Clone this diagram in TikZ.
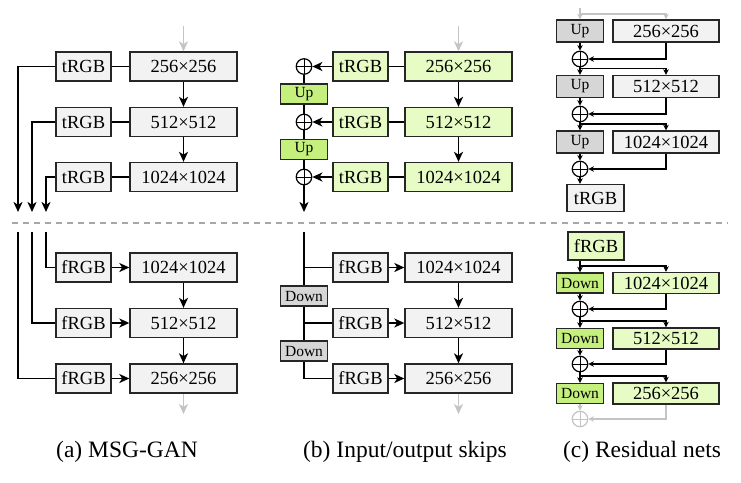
\documentclass[tikz,border=0pt]{standalone}
\usepackage{fontspec}
\setmainfont{Liberation Serif}
\usetikzlibrary{arrows.meta,calc}
\definecolor{lgray}{HTML}{F2F2F2}
\definecolor{mgray}{HTML}{D6D6D6}
\definecolor{lgreen}{HTML}{E6FCC4}
\definecolor{dgreen}{HTML}{C6F07E}
\definecolor{ghost}{HTML}{C4C4C4}
\begin{document}
\begin{tikzpicture}[x=1pt,y=-1pt,
  bx/.style={draw=black!85,line width=1.35pt,inner sep=0pt,font=\fontsize{18.5}{20}\selectfont},
  sbx/.style={bx,font=\fontsize{15.5}{17}\selectfont},
  wsm/.style={minimum width=55pt,minimum height=29pt},
  wbig/.style={minimum width=107pt,minimum height=29pt},
  wup/.style={minimum width=47pt,minimum height=20pt},
  plus/.style={circle,draw,line width=1.2pt,fill=white,minimum size=15.5pt,inner sep=0pt,
    path picture={\draw[line width=1pt] (path picture bounding box.north) -- (path picture bounding box.south)
      (path picture bounding box.west) -- (path picture bounding box.east);}},
  ghostplus/.style={plus,draw=ghost,path picture={\draw[line width=1pt,ghost] (path picture bounding box.north) -- (path picture bounding box.south)
      (path picture bounding box.west) -- (path picture bounding box.east);}},
  ln/.style={line width=1.6pt,black},
  sl/.style={line width=1.4pt,black},
  gh/.style={line width=1.4pt,ghost},
  arr/.style={-{Stealth[length=10pt,width=9pt,inset=2.8pt]}},
  sarr/.style={-{Stealth[length=5.5pt,width=5.5pt,inset=1.6pt]}},
  captxt/.style={anchor=base,font=\fontsize{23.5}{26}\selectfont}]
\useasboundingbox (0,0) rectangle (741,482);

% ---------- (a) MSG-GAN ----------
\node[bx,wsm,fill=lgray] (at1) at (83.5,66.5) {tRGB};
\node[bx,wsm,fill=lgray] (at2) at (83.5,122) {tRGB};
\node[bx,wsm,fill=lgray] (at3) at (83.5,177) {tRGB};
\node[bx,wbig,fill=lgray] (am1) at (183.5,66.5) {256×256};
\node[bx,wbig,fill=lgray] (am2) at (183.5,122) {512×512};
\node[bx,wbig,fill=lgray] (am3) at (183.5,177) {1024×1024};
\coordinate (ag1) at (183.5,26);
\draw[gh,arr] (ag1) -- (am1);
\draw[ln,arr] (am1) -- (am2);
\draw[ln,arr] (am2) -- (am3);
\draw[ln] (am1) -- (at1);
\draw[ln] (am2) -- (at2);
\draw[ln] (am3) -- (at3);
\coordinate (ae1) at (18,212);
\coordinate (ae2) at (32,212);
\coordinate (ae3) at (46,212);
\draw[ln,arr] (at1.west) -| (ae1);
\draw[ln,arr] (at2.west) -| (ae2);
\draw[ln,arr] (at3.west) -| (ae3);

\node[bx,wsm,fill=lgray] (af1) at (83.5,267.5) {fRGB};
\node[bx,wsm,fill=lgray] (af2) at (83.5,323) {fRGB};
\node[bx,wsm,fill=lgray] (af3) at (83.5,378.5) {fRGB};
\node[bx,wbig,fill=lgray] (an1) at (183.5,267.5) {1024×1024};
\node[bx,wbig,fill=lgray] (an2) at (183.5,323) {512×512};
\node[bx,wbig,fill=lgray] (an3) at (183.5,378.5) {256×256};
\coordinate (as1) at (46,232);
\coordinate (as2) at (32,232);
\coordinate (as3) at (18,232);
\draw[ln] (as1) |- (af1.west);
\draw[ln] (as2) |- (af2.west);
\draw[ln] (as3) |- (af3.west);
\draw[ln,arr] (af1) -- (an1);
\draw[ln,arr] (af2) -- (an2);
\draw[ln,arr] (af3) -- (an3);
\draw[ln,arr] (an1) -- (an2);
\draw[ln,arr] (an2) -- (an3);
\coordinate (ag2) at (183.5,414);
\draw[gh,arr] (an3) -- (ag2);

% ---------- (b) Input/output skips ----------
\node[plus] (bc1) at (304,66.5) {};
\node[plus] (bc2) at (304,122) {};
\node[plus] (bc3) at (304,177) {};
\node[sbx,wup,fill=dgreen] (bu1) at (304,94) {Up};
\node[sbx,wup,fill=dgreen] (bu2) at (304,149.5) {Up};
\node[bx,wsm,fill=lgreen] (bt1) at (360.5,66.5) {tRGB};
\node[bx,wsm,fill=lgreen] (bt2) at (360.5,122) {tRGB};
\node[bx,wsm,fill=lgreen] (bt3) at (360.5,177) {tRGB};
\node[bx,wbig,fill=lgreen] (bm1) at (458.5,66.5) {256×256};
\node[bx,wbig,fill=lgreen] (bm2) at (458.5,122) {512×512};
\node[bx,wbig,fill=lgreen] (bm3) at (458.5,177) {1024×1024};
\coordinate (bg1) at (458.5,26);
\draw[gh,arr] (bg1) -- (bm1);
\draw[ln,arr] (bm1) -- (bm2);
\draw[ln,arr] (bm2) -- (bm3);
\draw[ln] (bm1) -- (bt1);
\draw[ln] (bm2) -- (bt2);
\draw[ln] (bm3) -- (bt3);
\draw[ln,arr] (bt1) -- (bc1);
\draw[ln,arr] (bt2) -- (bc2);
\draw[ln,arr] (bt3) -- (bc3);
\draw[ln] (bc1) -- (bu1);
\draw[ln] (bu1) -- (bc2);
\draw[ln] (bc2) -- (bu2);
\draw[ln] (bu2) -- (bc3);
\coordinate (bo) at (304,212);
\draw[ln,arr] (bc3) -- (bo);

\node[sbx,wup,fill=mgray] (bd1) at (304,296) {Down};
\node[sbx,wup,fill=mgray] (bd2) at (304,351) {Down};
\node[bx,wsm,fill=lgray] (bf1) at (360.5,267.5) {fRGB};
\node[bx,wsm,fill=lgray] (bf2) at (360.5,323) {fRGB};
\node[bx,wsm,fill=lgray] (bf3) at (360.5,378.5) {fRGB};
\node[bx,wbig,fill=lgray] (bn1) at (458.5,267.5) {1024×1024};
\node[bx,wbig,fill=lgray] (bn2) at (458.5,323) {512×512};
\node[bx,wbig,fill=lgray] (bn3) at (458.5,378.5) {256×256};
\coordinate (bi) at (304,232);
\draw[ln] (bi) -- (bd1);
\draw[ln] (bd1) -- (bd2);
\draw[ln] (bd2.south) |- (bf3.west);
\draw[ln] (bi |- bf1.west) -- (bf1.west);
\draw[ln] (bi |- bf2.west) -- (bf2.west);
\draw[ln,arr] (bf1) -- (bn1);
\draw[ln,arr] (bf2) -- (bn2);
\draw[ln,arr] (bf3) -- (bn3);
\draw[ln,arr] (bn1) -- (bn2);
\draw[ln,arr] (bn2) -- (bn3);
\coordinate (bg2) at (458.5,414);
\draw[gh,arr] (bn3) -- (bg2);

% ---------- (c) Residual nets ----------
\node[sbx,minimum width=47pt,minimum height=22pt,fill=mgray] (cu1) at (580,31) {Up};
\node[sbx,minimum width=47pt,minimum height=22pt,fill=mgray] (cu2) at (580,86.5) {Up};
\node[sbx,minimum width=47pt,minimum height=22pt,fill=mgray] (cu3) at (580,142) {Up};
\node[bx,minimum width=106pt,minimum height=22pt,fill=lgray] (cm1) at (666,31) {256×256};
\node[bx,minimum width=106pt,minimum height=22pt,fill=lgray] (cm2) at (666,86.5) {512×512};
\node[bx,minimum width=106pt,minimum height=22pt,fill=lgray] (cm3) at (666,142) {1024×1024};
\node[plus] (cc1) at (580,59) {};
\node[plus] (cc2) at (580,114) {};
\node[plus] (cc3) at (580,169) {};
\node[bx,minimum width=57pt,minimum height=27pt,fill=lgray] (ct) at (595.5,198) {tRGB};
\coordinate (cg0) at (580,8);
\coordinate (cg1) at (580,14);
\draw[gh,sarr] (cg0) -- (cu1);
\draw[gh,sarr] (cg1) -| (cm1.north);
\draw[sl,sarr] (cu1) -- (cc1);
\draw[sl,sarr] (cu2) -- (cc2);
\draw[sl,sarr] (cu3) -- (cc3);
\draw[sl,sarr] (cm1.south) |- (cc1.east);
\draw[sl,sarr] (cm2.south) |- (cc2.east);
\draw[sl,sarr] (cm3.south) |- (cc3.east);
\draw[sl,sarr] (cc1) -- (cu2);
\draw[sl,sarr] (cc2) -- (cu3);
\coordinate (cb1) at (580,68.5);
\coordinate (cb2) at (580,124);
\draw[sl,sarr] (cb1) -| (cm2.north);
\draw[sl,sarr] (cb2) -| (cm3.north);
\draw[sl,sarr] (cc3.south) -- (cc3.south |- ct.north);

\node[bx,minimum width=56pt,minimum height=28pt,fill=lgreen] (cf) at (596,246) {fRGB};
\node[sbx,wup,fill=dgreen] (cd1) at (580,283) {Down};
\node[sbx,wup,fill=dgreen] (cd2) at (580,338.5) {Down};
\node[sbx,wup,fill=dgreen] (cd3) at (580,393.5) {Down};
\node[bx,minimum width=106pt,minimum height=21pt,fill=lgreen] (cn1) at (666,283) {1024×1024};
\node[bx,minimum width=106pt,minimum height=21pt,fill=lgreen] (cn2) at (666,338.5) {512×512};
\node[bx,minimum width=106pt,minimum height=21pt,fill=lgreen] (cn3) at (666,393.5) {256×256};
\node[plus] (ce1) at (580,309) {};
\node[plus] (ce2) at (580,364) {};
\node[ghostplus] (ce3) at (580,419) {};
\draw[sl,sarr] (cd1.north |- cf.south) -- (cd1.north);
\coordinate (cbf) at (580,266);
\draw[sl,sarr] (cbf) -| (cn1.north);
\draw[sl,sarr] (cd1) -- (ce1);
\draw[sl,sarr] (cd2) -- (ce2);
\draw[gh,sarr] (cd3) -- (ce3);
\draw[sl,sarr] (cn1.south) |- (ce1.east);
\draw[sl,sarr] (cn2.south) |- (ce2.east);
\draw[gh,sarr] (cn3.south) |- (ce3.east);
\draw[sl,sarr] (ce1) -- (cd2);
\draw[sl,sarr] (ce2) -- (cd3);
\coordinate (cbe1) at (580,321);
\coordinate (cbe2) at (580,376);
\draw[sl,sarr] (cbe1) -| (cn2.north);
\draw[sl,sarr] (cbe2) -| (cn3.north);

% ---------- separator and captions ----------
\coordinate (dl) at (12,223);
\coordinate (dr) at (728,223);
\draw[line width=1.3pt,ghost!85!black,dash pattern=on 6pt off 5pt] (dl) -- (dr);
\node[captxt] (capa) at (127,457) {(a) MSG-GAN};
\node[captxt] (capb) at (405,457) {(b) Input/output skips};
\node[captxt] (capc) at (642,457) {(c) Residual nets};
\end{tikzpicture}
\end{document}
